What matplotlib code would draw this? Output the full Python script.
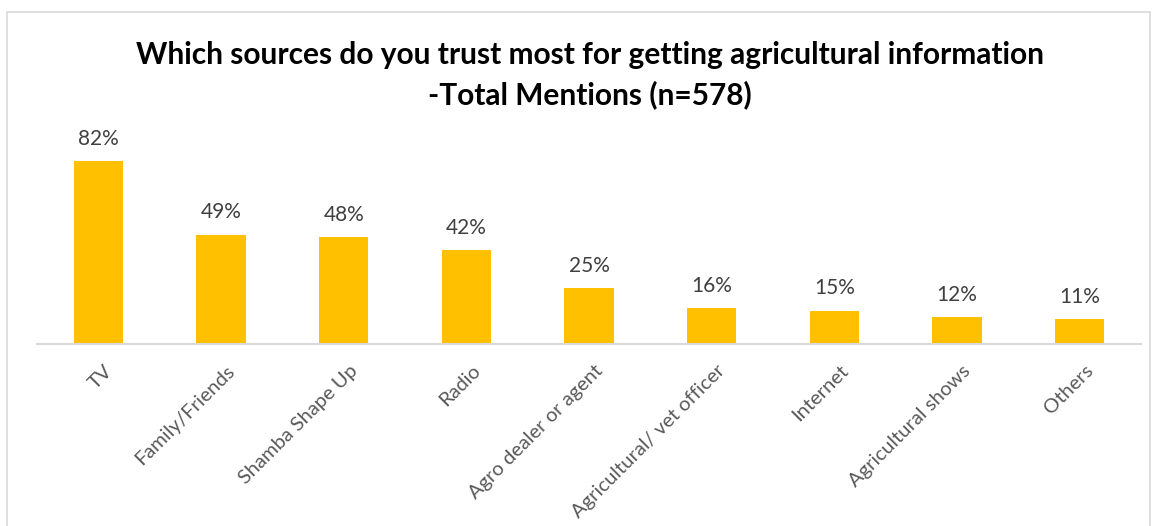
import matplotlib
matplotlib.use('Agg')
import matplotlib.pyplot as plt
from matplotlib.patches import Rectangle
import matplotlib.transforms as mtransforms

sources = ['TV', 'Family/Friends', 'Shamba Shape Up', 'Radio', 'Agro dealer or agent',
           'Agricultural/ vet officer', 'Internet', 'Agricultural shows', 'Others']
shares = [82, 49, 48, 42, 25, 16, 15, 12, 11]

plt.rcParams['font.family'] = ['Lato', 'DejaVu Sans']

fig = plt.figure(figsize=(11.56, 5.26), dpi=100)
fig.patch.set_facecolor('white')

# light frame around the chart area
fig.patches.append(Rectangle((7 / 1156, -0.01), 1143 / 1156, 1 - 12 / 526 + 0.01,
                             transform=fig.transFigure, fill=False,
                             edgecolor='#d9d9d9', linewidth=1.2))

ax = fig.add_axes([37 / 1156, 182 / 526, 1104 / 1156, 223 / 526])
x = range(len(sources))
ax.bar(x, shares, width=0.4, color='#FFC000')
ax.set_xlim(-0.5, len(sources) - 0.5)
ax.set_ylim(0, 100)

for xi, v in zip(x, shares):
    ax.text(xi, v + 5.5, f'{v}%', ha='center', va='bottom', fontsize=15, color='#404040')

for s in ['top', 'right', 'left']:
    ax.spines[s].set_visible(False)
ax.spines['bottom'].set_color('#d9d9d9')
ax.spines['bottom'].set_linewidth(1.5)
ax.set_yticks([])
ax.set_xticks(list(x))
ax.set_xticklabels(sources, rotation=45, ha='right', va='top', rotation_mode='anchor',
                   fontsize=14.5, color='#595959')
ax.tick_params(axis='x', length=0, pad=13)
offset = mtransforms.ScaledTranslation(5 / 100, 0, fig.dpi_scale_trans)
for lbl in ax.get_xticklabels():
    lbl.set_transform(lbl.get_transform() + offset)

fig.text(0.51, 1 - 55 / 526, 'Which sources do you trust most for getting agricultural information',
         ha='center', va='center', fontsize=21.5, fontweight='bold', color='black')
fig.text(0.51, 1 - 95 / 526, '-Total Mentions (n=578)',
         ha='center', va='center', fontsize=21.5, fontweight='bold', color='black')

fig.savefig('out.png', dpi=100, facecolor='white')
